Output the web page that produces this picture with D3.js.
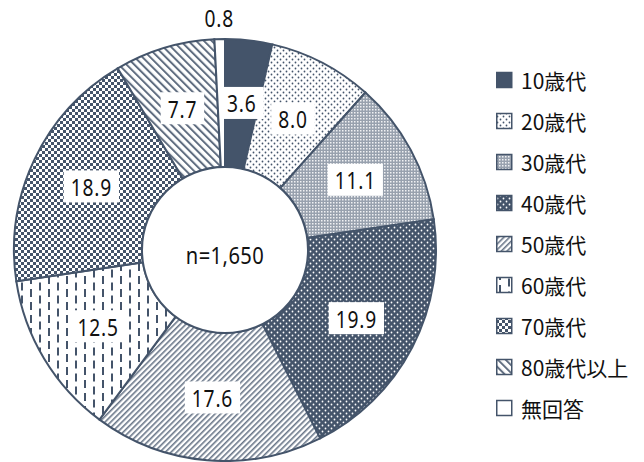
<!DOCTYPE html>
<html>
<head>
<meta charset="utf-8">
<script src="https://cdn.jsdelivr.net/npm/d3@7"></script>
<style>
  body { margin: 0; background: #fff; }
  svg { display: block; }
  .num { font-family: "Noto Sans", "Noto Sans CJK JP", sans-serif; }
  .leg { font-family: "Noto Sans CJK JP", "Noto Sans", sans-serif; }
</style>
</head>
<body>
<svg id="chart" width="644" height="462"></svg>
<script>
// age groups, shares (%) and the fill pattern used for each
const categories = ['10歳代', '20歳代', '30歳代', '40歳代', '50歳代', '60歳代', '70歳代', '80歳代以上', '無回答'];
const values = [3.6, 8.0, 11.1, 19.9, 17.6, 12.5, 18.9, 7.7, 0.8];
const fills = ['solid', 'dots', 'fine', 'darkDots', 'diagUp', 'dashes', 'checker', 'diagDown', 'blank'];
const centerLabel = 'n=1,650';

const dark = '#44546a';
const squeeze = 0.8; // the numbers in the original are set in a narrow face
const svg = d3.select('#chart');
const cx = 225, cy = 250, outerR = 211, innerR = 83;

buildPatterns(svg.append('defs'));

const pie = d3.pie().sort(null).value(d => d.value);
const arc = d3.arc().innerRadius(innerR).outerRadius(outerR);
const labelArc = d3.arc().innerRadius(148).outerRadius(148);
const outsideArc = d3.arc().innerRadius(232).outerRadius(232);

const data = categories.map((c, i) => ({ name: c, value: values[i], fill: fills[i] }));
const slices = pie(data);

const g = svg.append('g').attr('transform', `translate(${cx},${cy})`);

g.selectAll('path.slice')
    .data(slices)
    .enter()
    .append('path')
    .attr('class', 'slice')
    .attr('d', arc)
    .attr('fill', d => fillOf(d.data.fill))
    .attr('stroke', dark)
    .attr('stroke-width', 2);

g.append('circle')
    .attr('r', innerR)
    .attr('fill', '#fff')
    .attr('stroke', dark)
    .attr('stroke-width', 2);

g.append('text')
    .attr('class', 'num')
    .attr('transform', `translate(0,4) scale(${squeeze + 0.04},1)`)
    .attr('text-anchor', 'middle')
    .attr('dominant-baseline', 'central')
    .attr('font-size', 24)
    .attr('letter-spacing', 0.5)
    .attr('fill', '#111')
    .text(centerLabel);

// value labels in white boxes (the smallest one sits outside the ring)
const labels = g.selectAll('g.lab')
    .data(slices)
    .enter()
    .append('g')
    .attr('class', 'lab')
    .attr('transform', d => {
        const p = d.data.value < 2 ? outsideArc.centroid(d) : labelArc.centroid(d);
        return `translate(${p[0]},${p[1]})`;
    });

labels.append('text')
    .attr('class', 'num')
    .attr('transform', `scale(${squeeze},1)`)
    .attr('text-anchor', 'middle')
    .attr('dominant-baseline', 'central')
    .attr('font-size', 24)
    .attr('letter-spacing', 1)
    .attr('fill', '#111')
    .text(d => d.data.value.toFixed(1));

labels.each(function(d) {
    if (d.data.value < 2) return;
    const sel = d3.select(this);
    const bb = sel.select('text').node().getBBox();
    const w = bb.width * squeeze;
    sel.insert('rect', 'text')
        .attr('x', -w / 2 - 7)
        .attr('y', bb.y)
        .attr('width', w + 14)
        .attr('height', bb.height)
        .attr('fill', '#fff');
});

// legend
const legend = svg.append('g')
    .attr('transform', 'translate(496,80)')
    .selectAll('g')
    .data(data)
    .enter()
    .append('g')
    .attr('transform', (d, i) => `translate(0,${i * 41})`);

legend.append('rect')
    .attr('x', 0.75)
    .attr('y', -7.5)
    .attr('width', 15)
    .attr('height', 15)
    .attr('fill', d => fillOf(d.fill))
    .attr('stroke', dark)
    .attr('stroke-width', 1.5);

legend.append('text')
    .attr('class', 'leg')
    .attr('x', 25)
    .attr('y', 0)
    .attr('dominant-baseline', 'central')
    .attr('font-size', 21)
    .attr('fill', '#111')
    .text(d => d.name);

function fillOf(kind) {
    if (kind === 'solid') return dark;
    if (kind === 'blank') return '#fff';
    return `url(#p-${kind})`;
}

function buildPatterns(defs) {
    const pat = (id, w, h) => defs.append('pattern')
        .attr('id', 'p-' + id)
        .attr('patternUnits', 'userSpaceOnUse')
        .attr('width', w)
        .attr('height', h);

    let p = pat('dots', 6, 6);
    p.append('rect').attr('width', 6).attr('height', 6).attr('fill', '#fff');
    p.append('circle').attr('cx', 1.5).attr('cy', 1.5).attr('r', 0.9).attr('fill', dark);
    p.append('circle').attr('cx', 4.5).attr('cy', 4.5).attr('r', 0.9).attr('fill', dark);

    p = pat('fine', 3, 3);
    p.append('rect').attr('width', 3).attr('height', 3).attr('fill', '#98a1ae');
    p.append('rect').attr('width', 1.5).attr('height', 1.5).attr('fill', '#fff').attr('opacity', 0.85);

    p = pat('darkDots', 6, 6);
    p.append('rect').attr('width', 6).attr('height', 6).attr('fill', dark);
    p.append('circle').attr('cx', 1.5).attr('cy', 1.5).attr('r', 0.9).attr('fill', '#fff');
    p.append('circle').attr('cx', 4.5).attr('cy', 4.5).attr('r', 0.9).attr('fill', '#fff');

    p = pat('diagUp', 4, 4).attr('patternTransform', 'rotate(45)');
    p.append('rect').attr('width', 4).attr('height', 4).attr('fill', '#fff');
    p.append('rect').attr('width', 1.6).attr('height', 4).attr('fill', dark).attr('opacity', 0.8);

    p = pat('diagDown', 5.5, 5.5).attr('patternTransform', 'rotate(-45)');
    p.append('rect').attr('width', 5.5).attr('height', 5.5).attr('fill', '#fff');
    p.append('rect').attr('width', 2).attr('height', 5.5).attr('fill', dark).attr('opacity', 0.85);

    p = pat('dashes', 18, 13);
    p.append('rect').attr('width', 18).attr('height', 13).attr('fill', '#fff');
    p.append('rect').attr('x', 3).attr('y', 0).attr('width', 2).attr('height', 8).attr('fill', dark);
    p.append('rect').attr('x', 12).attr('y', 6.5).attr('width', 2).attr('height', 8).attr('fill', dark);
    p.append('rect').attr('x', 12).attr('y', -6.5).attr('width', 2).attr('height', 8).attr('fill', dark);

    p = pat('checker', 6, 6);
    p.append('rect').attr('width', 6).attr('height', 6).attr('fill', '#fff');
    p.append('rect').attr('width', 3).attr('height', 3).attr('fill', dark);
    p.append('rect').attr('x', 3).attr('y', 3).attr('width', 3).attr('height', 3).attr('fill', dark);
}
</script>
</body>
</html>
